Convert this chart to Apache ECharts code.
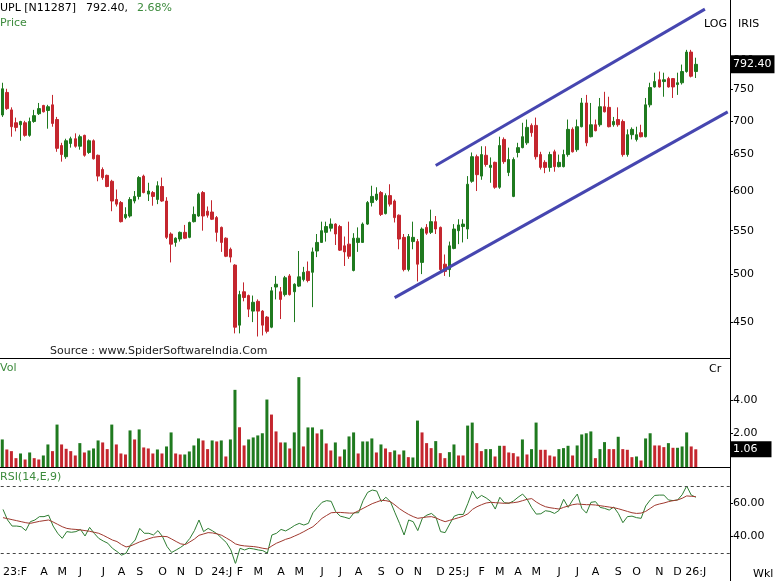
<!DOCTYPE html>
<html><head><meta charset="utf-8">
<script src="https://cdn.jsdelivr.net/npm/echarts@6/dist/echarts.min.js"></script>
<style>html,body{margin:0;padding:0;background:#fff}#c{width:779px;height:581px}</style>
</head><body><div id="c"></div>
<script>
// ---------------- DATA ----------------
const startDate = '2023-02-03';   // first weekly bar
const padWeeks = 7;               // empty weeks right of the last bar
const monthLetters = ['J','F','M','A','M','J','J','A','S','O','N','D'];

const opens = [709,745,717,697,694,697,678,699,711,724, 716,725,702,663,647,666,673,662,678,653,
 670,649,629,621,613,589,585,566,568,587, 593,620,596,598,589,606,587,546,536,540,
 548,542,561,568,598,574,573,566,554,541, 528,510,447,481,477,461,471,461,455,445,
 486,481,478,498,481,487,494,503,502,526, 536,548,553,558,555,532,534,504,536,536,
 558,585,589,598,571,594,587,569,542,505, 537,537,513,554,548,561,554,511,505,529,
 550,555,552,613,647,620,649,632,639,605, 672,625,593,653,660,667,693,693,650,639,
 632,654,633,633,650,687,657,691,728,676, 694,694,722,721,694,702,699,650,679,672,
 682,676,725,754,766,763,768,768,758,761, 780,814,780];
const closes = [751,719,691,690,699,678,699,708,719,714, 722,696,659,650,670,673,662,676,649,670,
 644,620,618,606,587,583,561,570,589,593, 618,598,600,593,607,587,542,534,541,548,
 541,560,570,596,568,569,564,548,536,520, 519,445,478,475,463,470,461,447,441,482,
 489,473,496,478,489,497,502,493,525,536, 550,555,558,546,527,525,520,541,541,558,
 585,593,596,570,594,583,566,540,505,543, 542,511,552,547,561,552,505,503,532,552,
 557,558,609,647,622,650,636,635,605,663, 640,643,643,660,676,690,682,647,632,632,
 650,633,639,650,687,654,691,728,667,694, 685,722,714,691,699,694,650,679,687,679,
 676,725,753,763,754,766,754,754,761,780, 814,772,792.4];
const lows = [706,717,676,684,670,676,676,697,709,713, 688,691,654,640,644,660,660,657,647,651,
 643,613,615,605,574,580,560,564,566,584, 589,597,587,581,583,586,540,513,531,537,
 540,541,560,567,550,566,563,537,525,519, 513,439,439,471,455,450,436,437,439,444,
 473,453,476,477,450,486,492,491,465,519, 536,537,549,533,526,509,517,503,525,536,
 557,580,587,568,570,580,560,528,503,503, 528,492,500,545,546,546,503,498,497,528,
 534,536,540,611,600,615,633,611,603,603, 637,620,592,646,659,664,676,643,629,624,
 626,626,632,632,647,653,654,690,662,675, 684,691,713,690,691,691,647,647,672,669,
 675,675,721,753,753,738,753,736,741,758, 778,770,769];
const highs = [761,751,721,705,700,700,705,717,728,725, 725,741,706,667,673,676,681,679,679,672,
 672,650,632,622,615,602,587,579,592,600, 620,622,611,600,613,618,592,548,542,549,
 557,561,580,598,600,580,588,568,555,542, 530,511,482,491,478,477,473,462,456,486,
 498,486,498,500,490,526,508,514,530,546, 561,561,565,559,557,543,561,547,554,560,
 587,607,605,600,597,609,589,570,546,546, 561,540,554,558,576,568,555,522,537,558,
 564,564,620,653,650,662,662,646,640,676, 675,660,646,667,697,702,696,705,654,642,
 654,657,650,657,702,690,702,736,741,728, 702,736,746,738,706,721,702,687,690,691,
 694,736,761,778,780,778,771,769,778,792, 818,818,804];

// weekly volume (Cr) and its bar direction (1 = green, 0 = red)
const volumes = [1.65,1.05,0.95,0.53,0.81,0.45,0.87,0.53,0.45,0.69, 1.35,0.95,2.54,1.35,1.09,0.95,0.69,1.43,0.87,0.99,
 1.11,1.59,1.47,1.07,2.54,1.35,0.81,0.75,2.19,1.65, 2.25,1.17,1.11,0.81,1.05,0.81,1.23,2.07,0.81,0.75,
 0.75,0.93,1.29,1.71,1.59,1.07,1.59,1.53,1.59,0.63, 1.65,4.62,2.38,1.29,1.65,1.77,1.89,2.02,4.04,3.14,
 2.13,1.47,1.47,1.11,2.07,5.38,1.23,2.37,2.37,2.01, 2.25,1.41,0.99,1.47,0.63,1.05,1.83,2.07,0.81,1.53,
 1.53,1.71,0.87,1.35,1.11,0.89,0.99,0.75,0.99,0.59, 0.57,2.78,2.07,1.43,1.13,1.55,0.83,0.53,0.89,1.35,
 0.69,0.69,2.48,2.66,1.43,0.95,1.07,1.07,0.63,1.27, 1.27,0.87,0.83,0.63,1.65,0.75,1.07,2.66,1.03,1.03,
 0.69,0.63,1.07,1.13,1.27,0.69,1.29,1.95,2.02,2.13, 0.53,1.07,1.49,1.07,1.07,1.81,1.07,1.03,0.59,0.63,
 0.39,1.71,2.02,1.29,1.29,1.19,1.43,1.15,1.15,1.23, 2.07,1.23,1.06];
const volUp = [1,0,0,0,1,0,1,0,0,1, 1,0,1,0,0,0,0,1,0,1, 1,1,0,0,1,0,0,0,1,0, 1,0,0,0,1,0,1,1,0,0,
 1,1,1,1,0,0,1,0,1,0, 1,1,0,0,1,1,1,1,1,0, 0,0,1,0,1,1,0,1,1,0, 1,0,0,1,0,1,1,1,0,1,
 1,1,0,1,0,0,1,0,1,0, 1,1,0,0,0,1,0,0,1,1, 0,0,1,1,0,0,1,1,0,1, 0,0,0,0,1,0,1,1,0,0,
 0,0,1,1,1,0,1,1,1,1, 0,1,1,0,0,1,0,0,0,1, 0,1,1,0,0,0,1,0,1,1, 1,0,0];

// RSI(14) and its 9-period signal
const rsi = [56.1,49.8,46.2,46.2,45.8,43.5,48.8,49.8,51.8,51.8, 52.7,46.2,41.9,38.9,42.9,42.5,42.9,44.2,40.3,45.4,
 41.9,38.9,37.3,36.0,33.0,31.1,28.9,30.1,35.0,37.9, 44.8,41.9,41.9,40.9,43.5,39.9,34.0,30.5,32.0,33.6,
 35.6,38.9,43.5,49.8,42.9,44.8,43.3,41.5,38.9,36.4, 32.0,23.8,33.0,32.0,33.0,32.6,32.0,31.6,30.1,40.9,
 41.9,44.2,43.3,44.8,46.6,47.8,46.8,47.8,54.1,57.3, 60.3,61.3,60.9,54.7,52.1,51.4,50.6,54.1,54.1,61.3,
 66.2,67.6,67.0,60.7,63.3,60.7,54.1,47.8,40.9,49.8, 48.8,43.5,50.8,52.7,53.7,51.4,42.9,42.3,47.4,52.1,
 53.1,53.1,59.7,67.0,62.5,64.4,62.9,60.9,56.3,63.3, 60.1,59.7,61.1,63.3,65.2,62.1,57.1,53.3,53.5,55.3,
 54.9,53.7,55.5,62.1,57.3,61.7,65.2,56.7,53.9,60.3, 60.7,57.3,56.7,55.7,57.5,53.7,48.2,51.8,52.1,51.2,
 50.8,58.1,61.7,64.4,64.6,64.6,61.7,61.3,61.7,64.8, 70.0,64.6,63.3];
const rsiSignal = [51.2,50.6,50.0,49.4,48.8,48.2,47.8,48.4,49.0,49.4, 49.8,48.6,47.2,45.8,44.8,44.4,44.2,43.9,43.5,43.1,
 42.5,41.9,40.7,39.3,37.9,37.0,35.2,33.8,34.4,35.6, 36.8,37.7,38.7,39.5,39.9,40.1,39.9,38.5,37.0,35.6,
 35.2,36.8,38.5,40.7,41.5,42.3,42.1,41.5,40.7,39.1, 37.5,35.6,34.8,34.4,34.2,34.0,33.6,33.0,32.6,34.4,
 36.0,37.1,38.3,39.1,40.3,41.5,42.9,44.4,45.8,48.2, 50.8,52.5,54.1,54.3,54.3,54.1,53.9,53.9,55.3,56.7,
 58.1,59.5,60.5,61.5,61.3,60.7,58.7,56.5,54.7,53.1, 51.8,50.8,51.2,51.6,51.8,51.0,49.8,48.8,49.6,50.4,
 51.2,52.1,53.5,56.1,57.7,58.9,59.9,60.3,60.1,59.9, 59.7,59.9,60.1,60.5,61.3,62.1,62.5,60.5,58.9,57.7,
 57.1,56.7,56.3,57.3,58.1,58.9,59.3,59.1,58.9,58.9, 58.7,58.3,57.9,57.5,57.1,56.5,55.7,54.9,54.1,53.7,
 53.9,54.9,56.7,58.5,59.3,59.9,60.7,61.3,61.7,62.7, 64.1,63.9,63.7];

const priceTicks = [450,500,550,600,650,700,750,800];
const volTicks = [2,4];
const rsiTicks = [40,60];
const rsiBands = [70,30];
const lastClose = 792.40;
const changePct = 2.68;
const lastVol = 1.06;
// channel lines: [week index, price]
const lowerChannel = [[86, 474.8],[159, 713.8]];
const upperChannel = [[95, 634.7],[154, 894.5]];

// ---------------- BUILD ----------------
const N = opens.length;
const categories = [];
const d0 = new Date(startDate + 'T00:00:00Z');
for (let i = 0; i < N; i++) {
  categories.push(new Date(d0.getTime() + i * 7 * 86400000).toISOString().slice(0, 10));
}
for (let i = 0; i < padWeeks; i++) categories.push('pad' + i);

function isMonthStart(i) {
  if (i >= N) return false;
  if (i === 0) return true;
  return categories[i].slice(5, 7) !== categories[i - 1].slice(5, 7);
}
function monthLabel(v, i) {
  if (!/^\d{4}-/.test(v)) return '';
  const m = +v.slice(5, 7);
  const L = monthLetters[m - 1];
  return (i === 0 || m === 1) ? v.slice(2, 4) + ':' + L : L;
}

const FONT = 'DejaVu Sans';
const GREEN = '#1f7a1f', RED = '#c4262e', TXTGREEN = '#3d8b3d';
const candleData = opens.map((o, i) => [o, closes[i], lows[i], highs[i]]);

const chart = echarts.init(document.getElementById('c'), null, {renderer: 'canvas'});
const xAx = g => ({
  type: 'category', gridIndex: g, data: categories, boundaryGap: true,
  axisLine: {show: g < 2, lineStyle: {color: '#000', width: 1}},
  axisTick: {show: false},
  splitLine: {show: false},
  axisLabel: g === 2 ? {show: true, interval: (i) => isMonthStart(i), formatter: monthLabel,
    showMinLabel: true, hideOverlap: false,
    color: '#000', fontFamily: FONT, fontSize: 11, margin: 4, alignMinLabel: 'left'} : {show: false}
});
const yLab = (vals, fmt) => ({
  axisLine: {show: true, lineStyle: {color: '#000'}},
  axisTick: {show: true, length: 3, customValues: vals, lineStyle: {color: '#000'}},
  axisLabel: {show: true, customValues: vals, formatter: fmt, color: '#000', fontFamily: FONT, fontSize: 11, margin: 3},
  splitLine: {show: false}
});

const textEl = (text, x, y, fill) => ({
  type: 'text', x: x, y: y, silent: true,
  style: {text: text, fill: fill || '#000', font: '11px "DejaVu Sans"', verticalAlign: 'middle', align: 'left'}
});

const hiddenLine = {color: 'rgba(0,0,0,0)', width: 1, opacity: 1};

const option = {
  animation: false,
  backgroundColor: '#fff',
  grid: [
    {left: 0, top: 0, width: 730, height: 358},
    {left: 0, top: 359, width: 730, height: 108},
    {left: 0, top: 469, width: 730, height: 94}
  ],
  xAxis: [xAx(0), xAx(1), xAx(2)],
  yAxis: [
    Object.assign({type: 'log', logBase: 10, gridIndex: 0, position: 'right', min: 415.9, max: 912.6},
      yLab(priceTicks, v => String(Math.round(v)))),
    Object.assign({type: 'value', gridIndex: 1, position: 'right', min: 0, max: 108 / 16.7},
      yLab(volTicks, v => (+v).toFixed(2))),
    Object.assign({type: 'value', gridIndex: 2, position: 'right', min: 24.25, max: 80.1},
      yLab(rsiTicks, v => (+v).toFixed(2)))
  ],
  series: [
    {
      type: 'candlestick', xAxisIndex: 0, yAxisIndex: 0, data: candleData, barWidth: 3,
      itemStyle: {color: GREEN, color0: RED, borderColor: GREEN, borderColor0: RED, borderWidth: 1},
      markLine: {
        silent: true, symbol: 'none', lineStyle: hiddenLine, z: 10,
        label: {show: true, position: 'end', distance: 1, formatter: () => lastClose.toFixed(2),
          backgroundColor: '#000', color: '#fff', padding: [4, 3, 3, 2], fontFamily: FONT, fontSize: 11},
        emphasis: {disabled: true},
        data: [{yAxis: lastClose}]
      }
    },
    {type: 'line', xAxisIndex: 0, yAxisIndex: 0, data: lowerChannel, symbol: 'none', silent: true,
      lineStyle: {color: '#4646b0', width: 3}, z: 5},
    {type: 'line', xAxisIndex: 0, yAxisIndex: 0, data: upperChannel, symbol: 'none', silent: true,
      lineStyle: {color: '#4646b0', width: 3}, z: 5},
    {
      type: 'bar', xAxisIndex: 1, yAxisIndex: 1, data: volumes, barWidth: 3,
      itemStyle: {color: p => volUp[p.dataIndex] ? GREEN : RED},
      markLine: {
        silent: true, symbol: 'none', lineStyle: hiddenLine, z: 10,
        label: {show: true, position: 'end', distance: 1, formatter: () => lastVol.toFixed(2),
          backgroundColor: '#000', color: '#fff', padding: [3, 14, 2, 2], fontFamily: FONT, fontSize: 11},
        emphasis: {disabled: true},
        data: [{yAxis: lastVol}]
      }
    },
    {
      type: 'line', xAxisIndex: 2, yAxisIndex: 2, data: rsi, symbol: 'none', silent: true,
      lineStyle: {color: '#2e7d32', width: 1},
      markLine: {
        silent: true, symbol: 'none', label: {show: false},
        lineStyle: {type: [3, 3], color: '#444', width: 1},
        data: rsiBands.map(v => ({yAxis: v}))
      }
    },
    {type: 'line', xAxisIndex: 2, yAxisIndex: 2, data: rsiSignal, symbol: 'none', silent: true,
      lineStyle: {color: '#a0392f', width: 1}}
  ],
  graphic: [
    {type: 'line', silent: true, shape: {x1: 730.5, y1: 0, x2: 730.5, y2: 581}, style: {stroke: '#000', lineWidth: 1}},
    textEl('UPL [N11287]', 0, 8.5),
    textEl(lastClose.toFixed(2) + ',', 86, 8.5),
    textEl(changePct.toFixed(2) + '%', 137, 8.5, TXTGREEN),
    textEl('Price', 0, 23.5, TXTGREEN),
    textEl('LOG', 704, 24),
    textEl('IRIS', 738, 24),
    textEl('Source : www.SpiderSoftwareIndia.Com', 50, 351, '#222'),
    textEl('Vol', 0, 368, TXTGREEN),
    textEl('Cr', 709, 369),
    textEl('RSI(14,E,9)', 0, 477, TXTGREEN),
    textEl('Wkl', 753, 574)
  ]
};
chart.setOption(option);
</script>
</body></html>
